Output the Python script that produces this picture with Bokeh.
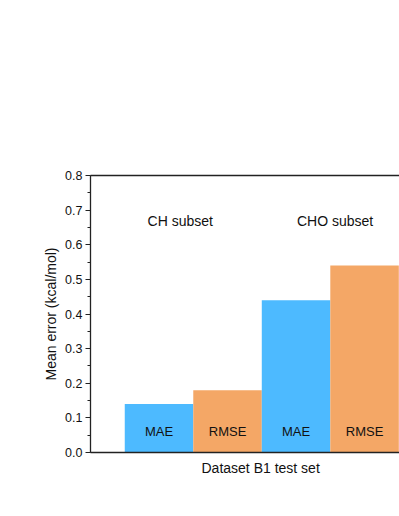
from bokeh.plotting import figure
from bokeh.models import (LinearAxis, SingleIntervalTicker, PrintfTickFormatter,
                          Title, FixedTicker, Range1d)
from bokeh.core.properties import value
from bokeh.embed import file_html
from bokeh.resources import INLINE

bar_labels = ["MAE", "RMSE", "MAE", "RMSE"]
bar_values = [0.14, 0.18, 0.44, 0.54]
bar_colors = ["#4DBAFF", "#F4A766", "#4DBAFF", "#F4A766"]
bar_pos = [1, 2, 3, 4]
subset_names = ["CH subset", "CHO subset"]
subset_x = [1.31, 3.57]
subset_y = [0.67, 0.67]
x_title = "Dataset B1 test set"
y_title = "Mean error (kcal/mol)"

FONT = "Liberation Sans"

p = figure(width=399, height=508, output_backend="svg", toolbar_location=None,
           x_range=Range1d(0, 4.51), y_range=Range1d(0, 0.8),
           min_border_left=90, min_border_right=0, min_border_top=175,
           min_border_bottom=56, outline_line_color=None)
p.xgrid.visible = False
p.ygrid.visible = False

p.vbar(x=bar_pos, top=bar_values, width=1.0, color=bar_colors, line_color=None)

p.text(x=bar_pos, y=[0.06] * 4, text=bar_labels, text_font=value(FONT),
       text_font_size="13px", text_align="center", text_baseline="middle",
       text_color="#111111")
p.text(x=subset_x, y=subset_y, text=subset_names, text_font=value(FONT),
       text_font_size="14px", text_align="center", text_baseline="middle",
       text_color="#111111")

# y axis
ya = p.yaxis[0]
ya.ticker = SingleIntervalTicker(interval=0.1, num_minor_ticks=2)
ya.formatter = PrintfTickFormatter(format="%.1f")
ya.major_label_text_font = FONT
ya.major_label_text_font_size = "12.5px"
ya.major_label_text_color = "#111111"
ya.major_label_standoff = 3
ya.major_tick_out = 5
ya.major_tick_in = 0
ya.minor_tick_out = 3
ya.minor_tick_in = 0
ya.axis_line_width = 1.3
ya.axis_line_color = "#222222"
ya.major_tick_line_color = "#222222"
ya.minor_tick_line_color = "#222222"
ya.axis_label = y_title
ya.axis_label_text_font = FONT
ya.axis_label_text_font_size = "14px"
ya.axis_label_text_font_style = "normal"
ya.axis_label_text_color = "#111111"
ya.axis_label_standoff = 3

# x axis: line only
xa = p.xaxis[0]
xa.ticker = FixedTicker(ticks=[])
xa.major_tick_line_color = None
xa.minor_tick_line_color = None
xa.major_label_text_font_size = "0px"
xa.axis_line_width = 1.3
xa.axis_line_color = "#222222"

# top border line
top = LinearAxis(ticker=FixedTicker(ticks=[]), major_tick_line_color=None,
                 minor_tick_line_color=None, major_label_text_font_size="0px",
                 axis_line_width=1.3, axis_line_color="#222222")
p.add_layout(top, "above")

p.add_layout(Title(text=x_title, text_font=FONT, text_font_size="14px",
                   text_font_style="normal", text_color="#111111",
                   align="left", offset=111, standoff=10), "below")

open("out.html", "w").write(file_html(p, INLINE))
